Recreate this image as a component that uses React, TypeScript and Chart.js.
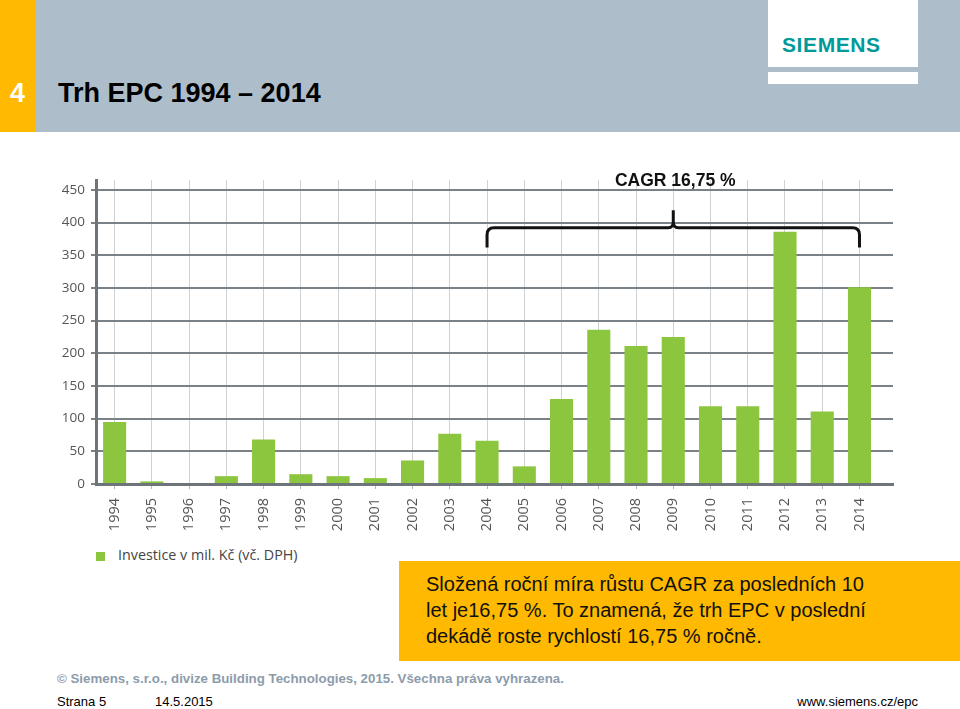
import React, { useEffect, useRef } from "react";
import { Chart, registerables } from "chart.js";

Chart.register(...registerables);

const YEARS = ["1994", "1995", "1996", "1997", "1998", "1999", "2000", "2001", "2002", "2003", "2004", "2005", "2006", "2007", "2008", "2009", "2010", "2011", "2012", "2013", "2014"];
const INVESTMENT = [95, 4, 0, 12, 68, 15, 12, 9, 36, 77, 66, 27, 130, 236, 211, 225, 119, 119, 386, 111, 301];
const Y_TICKS = [0, 50, 100, 150, 200, 250, 300, 350, 400, 450];
const Y_MAX = 465;
const SERIES_LABEL = "Investice v mil. Kč (vč. DPH)";
const CAGR_LABEL = "CAGR 16,75 %";
const CAGR_FROM = 10; // index of 2004
const CAGR_TO = 20; // index of 2014

const GREEN = "#8cc63f";
const DARK_GRID = "#7a8187";
const LIGHT_GRID = "#cfd1d3";

const bracePlugin = {
  id: "cagrBrace",
  afterDatasetsDraw(chart: any) {
    const { ctx, scales } = chart;
    const x = scales.x;
    const y = scales.y;
    const xl = x.getPixelForValue(CAGR_FROM);
    const xr = x.getPixelForValue(CAGR_TO);
    const xc = (xl + xr) / 2;
    const yh = y.getPixelForValue(392);
    const ye = y.getPixelForValue(362);
    const yt = y.getPixelForValue(419);
    const r = 7;
    ctx.save();
    ctx.strokeStyle = "#111";
    ctx.lineWidth = 3;
    ctx.lineJoin = "round";
    ctx.beginPath();
    ctx.moveTo(xl, ye);
    ctx.lineTo(xl, yh + r);
    ctx.quadraticCurveTo(xl, yh, xl + r, yh);
    ctx.lineTo(xc - 5, yh);
    ctx.quadraticCurveTo(xc, yh, xc, yh - 6);
    ctx.lineTo(xc, yt);
    ctx.moveTo(xc, yh - 6);
    ctx.quadraticCurveTo(xc, yh, xc + 5, yh);
    ctx.lineTo(xr - r, yh);
    ctx.quadraticCurveTo(xr, yh, xr, yh + r);
    ctx.lineTo(xr, ye);
    ctx.stroke();
    ctx.fillStyle = "#111";
    ctx.font = 'bold 17.5px Arial, "Liberation Sans", sans-serif';
    ctx.textAlign = "center";
    ctx.textBaseline = "middle";
    ctx.fillText(CAGR_LABEL, xc + 2, y.getPixelForValue(464));
    ctx.restore();
  },
};

function EpcChart() {
  const ref = useRef<HTMLCanvasElement | null>(null);
  useEffect(() => {
    if (!ref.current) return;
    const chart = new Chart(ref.current, {
      type: "bar",
      data: {
        datasets: [
          {
            label: SERIES_LABEL,
            data: INVESTMENT.map((v, i) => ({ x: i, y: v })),
            backgroundColor: GREEN,
            borderWidth: 0,
            categoryPercentage: 1,
            barPercentage: 0.62,
          },
        ],
      },
      options: {
        animation: false,
        responsive: true,
        maintainAspectRatio: false,
        layout: { padding: { top: 9, right: 17, left: 0, bottom: 0 } },
        plugins: { legend: { display: false }, tooltip: { enabled: false } },
        scales: {
          x: {
            type: "linear",
            min: -0.5,
            max: 20.9,
            offset: false,
            afterBuildTicks: (scale: any) => {
              scale.ticks = YEARS.map((_, i) => ({ value: i }));
            },
            afterFit: (scale: any) => {
              scale.height = 56;
            },
            grid: { color: LIGHT_GRID, lineWidth: 1, tickLength: 5, offset: false, tickColor: "#b5b8bb" },
            border: { color: "#6d747a", width: 3 },
            ticks: {
              autoSkip: false,
              maxRotation: 90,
              minRotation: 90,
              padding: 9,
              color: "#555",
              font: { family: '"Open Sans", sans-serif', size: 14.5 },
              callback: (v: any) => YEARS[v] ?? "",
            },
          },
          y: {
            min: 0,
            max: Y_MAX,
            afterBuildTicks: (scale: any) => {
              scale.ticks = Y_TICKS.map((v) => ({ value: v }));
            },
            afterFit: (scale: any) => {
              scale.width = 56;
            },
            grid: { color: DARK_GRID, lineWidth: 2, tickLength: 5, tickColor: DARK_GRID },
            border: { color: "#6d747a", width: 3 },
            ticks: {
              padding: 6,
              color: "#555",
              font: { family: '"Open Sans", sans-serif', size: 13.5 },
            },
          },
        },
      },
      plugins: [bracePlugin],
    } as any);
    return () => chart.destroy();
  }, []);
  return <canvas ref={ref} />;
}

export default function App() {
  const abs = (s: React.CSSProperties): React.CSSProperties => ({ position: "absolute", whiteSpace: "nowrap", lineHeight: 1, ...s });
  return (
    <div
      style={{
        position: "fixed",
        left: 0,
        top: 0,
        width: 960,
        height: 709,
        background: "#fff",
        overflow: "hidden",
        fontFamily: 'Arial, "Liberation Sans", sans-serif',
      }}
    >
      <div style={abs({ left: 0, top: 0, width: 960, height: 132, background: "#adbdc9" })} />
      <div style={abs({ left: 0, top: 0, width: 35, height: 132, background: "#ffb900" })} />
      <div style={abs({ left: 0, top: 80, width: 35, textAlign: "center", color: "#fff", fontWeight: "bold", fontSize: 27 })}>4</div>
      <div style={abs({ left: 58, top: 80, color: "#000", fontWeight: "bold", fontSize: 27 })}>Trh EPC 1994 – 2014</div>
      <div style={abs({ left: 768, top: 0, width: 150, height: 67, background: "#fff" })} />
      <div style={abs({ left: 768, top: 72, width: 150, height: 12, background: "#fff" })} />
      <div style={abs({ left: 782, top: 34, color: "#009999", fontWeight: "bold", fontSize: 21, letterSpacing: 0.6 })}>SIEMENS</div>

      <div style={{ position: "absolute", left: 40, top: 166, width: 870, height: 374 }}>
        <EpcChart />
      </div>

      <div style={abs({ left: 96, top: 552, width: 9, height: 9, background: GREEN })} />
      <div style={abs({ left: 118, top: 548, color: "#444", fontSize: 14.3, fontFamily: '"Open Sans", sans-serif' })}>{SERIES_LABEL}</div>

      <div style={abs({ left: 399, top: 561, width: 561, height: 100, background: "#ffb900" })} />
      <div style={abs({ left: 426, top: 571, color: "#111", fontSize: 20, lineHeight: "26px" })}>
        Složená roční míra růstu CAGR za posledních 10
        <br />
        let je16,75 %. To znamená, že trh EPC v poslední
        <br />
        dekádě roste rychlostí 16,75 % ročně.
      </div>

      <div style={abs({ left: 57, top: 672, color: "#8d9cab", fontWeight: "bold", fontSize: 13.3 })}>
        © Siemens, s.r.o., divize Building Technologies, 2015. Všechna práva vyhrazena.
      </div>
      <div style={abs({ left: 57, top: 695, color: "#000", fontSize: 13 })}>Strana 5</div>
      <div style={abs({ left: 155, top: 695, color: "#000", fontSize: 13 })}>14.5.2015</div>
      <div style={abs({ right: 42, top: 695, color: "#000", fontSize: 13 })}>www.siemens.cz/epc</div>
    </div>
  );
}
